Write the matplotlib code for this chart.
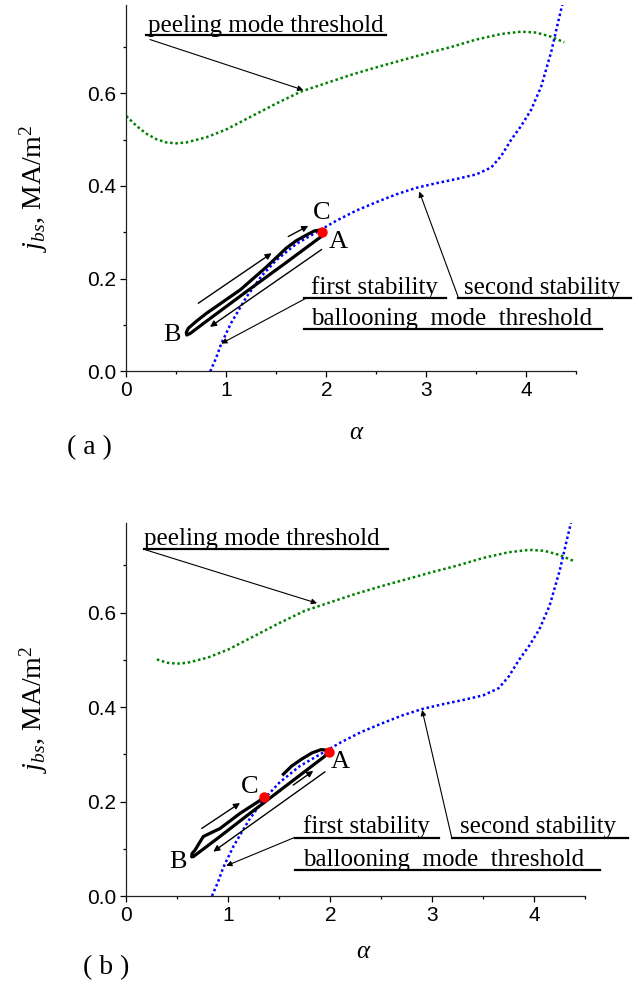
import numpy as np
import matplotlib.pyplot as plt

plt.rcParams['font.family'] = ['Liberation Sans', 'DejaVu Sans']
plt.rcParams['mathtext.fontset'] = 'custom'
plt.rcParams['mathtext.rm'] = 'Liberation Serif'
plt.rcParams['mathtext.it'] = 'Liberation Serif:italic'
SERIF = ['Liberation Serif', 'DejaVu Serif']

# ballooning mode threshold (first / second stability boundary), blue
ball_alpha = [0.84, 0.90, 0.95, 1.05, 1.20, 1.35, 1.50, 1.70, 1.90, 2.10, 2.30, 2.50,
              2.70, 2.90, 3.10, 3.30, 3.50, 3.65, 3.75, 3.85, 3.95, 4.05, 4.15, 4.25,
              4.32, 4.37]
ball_j = [0.000, 0.030, 0.060, 0.105, 0.160, 0.205, 0.240, 0.275, 0.300, 0.325, 0.347,
          0.365, 0.382, 0.396, 0.406, 0.415, 0.425, 0.440, 0.465, 0.500, 0.530, 0.565,
          0.615, 0.690, 0.755, 0.800]

# peeling mode threshold, green
peel_alpha = [0.0, 0.1, 0.2, 0.3, 0.4, 0.5, 0.6, 0.8, 1.0, 1.25, 1.5, 1.75, 2.0, 2.25,
              2.5, 2.75, 3.0, 3.25, 3.5, 3.75, 3.95, 4.1, 4.25, 4.38]
peel_j = [0.551, 0.530, 0.513, 0.501, 0.494, 0.492, 0.494, 0.505, 0.522, 0.550, 0.578,
          0.604, 0.622, 0.640, 0.656, 0.671, 0.686, 0.700, 0.716, 0.728, 0.733, 0.731,
          0.722, 0.710]
peel_start_b = 0.3  # panel (b) curve starts at alpha = 0.3

# pedestal trajectories (black loops)
traj_a_alpha = [1.96, 1.95, 1.60, 1.20, 0.80, 0.64, 0.605, 0.60, 0.62, 0.70, 0.80, 1.14,
                1.40, 1.60, 1.70, 1.80, 1.88, 1.94, 1.96]
traj_a_j = [0.300, 0.291, 0.235, 0.172, 0.108, 0.082, 0.0785, 0.084, 0.093, 0.108, 0.125,
            0.176, 0.225, 0.266, 0.282, 0.294, 0.303, 0.305, 0.300]
traj_b_alpha = [1.54, 1.62, 1.72, 1.82, 1.91, 1.96, 1.99, 1.94, 1.60, 1.20, 0.90, 0.657,
                0.641, 0.645, 0.673, 0.755, 0.919, 1.115, 1.294, 1.353]
traj_b_j = [0.258, 0.275, 0.290, 0.303, 0.310, 0.309, 0.3056, 0.295, 0.239, 0.173, 0.123,
            0.0834, 0.083, 0.090, 0.097, 0.126, 0.143, 0.175, 0.200, 0.209]

# red points
pts_a_alpha = [1.96]
pts_a_j = [0.300]
pts_b_alpha = [1.99, 1.353]
pts_b_j = [0.3056, 0.209]

panels = [
    dict(rect=[0.1967, 0.6241, 0.7009, 0.3706], tag='( a )', tagpos=(0.139, 0.547),
         xlabpos=(0.556, 0.563), ylabpos=(0.052, 0.809),
         peel_x=peel_alpha, peel_y=peel_j,
         traj=(traj_a_alpha, traj_a_j), pts=(pts_a_alpha, pts_a_j),
         letters=[('C', 1.954, 0.341), ('A', 2.12, 0.28), ('B', 0.454, 0.0785)],
         arrows=[((0.72, 0.147), (1.454, 0.255)), ((1.62, 0.291), (1.82, 0.314)),
                 ((1.954, 0.263), (0.837, 0.096))],
         notes=[('peeling mode threshold', 0.216, 0.733, 0.20, 2.60, 0.726),
                ('first stability', 1.85, 0.167, 1.776, 3.196, 0.159),
                ('second stability', 3.38, 0.167, 3.32, 5.05, 0.159),
                ('ballooning  mode  threshold', 1.85, 0.100, 1.776, 4.755, 0.0915)],
         pointers=[((0.237, 0.716), (1.77, 0.607)), ((1.79, 0.157), (0.95, 0.06)),
                   ((3.32, 0.16), (2.93, 0.388))]),
    dict(rect=[0.1967, 0.0931, 0.715, 0.3776], tag='( b )', tagpos=(0.166, 0.021),
         xlabpos=(0.566, 0.037), ylabpos=(0.052, 0.282),
         peel_x=[a for a in peel_alpha if a >= peel_start_b],
         peel_y=[j for a, j in zip(peel_alpha, peel_j) if a >= peel_start_b],
         traj=(traj_b_alpha, traj_b_j), pts=(pts_b_alpha, pts_b_j),
         letters=[('A', 2.095, 0.284), ('C', 1.213, 0.231), ('B', 0.51, 0.073)],
         arrows=[((0.739, 0.143), (1.115, 0.197)), ((1.637, 0.235), (1.833, 0.265)),
                 ((1.948, 0.263), (0.853, 0.094))],
         notes=[('peeling mode threshold', 0.172, 0.743, 0.172, 2.564, 0.734),
                ('first stability', 1.73, 0.133, 1.65, 3.07, 0.1236),
                ('second stability', 3.27, 0.133, 3.19, 4.92, 0.1236),
                ('ballooning  mode  threshold', 1.73, 0.064, 1.65, 4.64, 0.055)],
         pointers=[((0.19, 0.733), (1.87, 0.62)), ((1.65, 0.124), (0.98, 0.064)),
                   ((3.19, 0.124), (2.90, 0.394))]),
]

fig = plt.figure(figsize=(6.42, 9.88), dpi=100)

for p in panels:
    ax = fig.add_axes(p['rect'])
    ax.plot(p['peel_x'], p['peel_y'], color='#008000', lw=1.8,
            linestyle=(0, (1, 1.1)), dash_capstyle='butt')
    ax.plot(ball_alpha, ball_j, color='#0000ff', lw=1.8,
            linestyle=(0, (1, 1.1)), dash_capstyle='butt')
    ax.plot(*p['traj'], color='black', lw=2.3, solid_joinstyle='round')
    ax.plot(*p['pts'], 'o', color='red', ms=6.5, zorder=5)

    for s, x, y in p['letters']:
        ax.text(x, y, s, fontsize=19, family=SERIF, ha='center', va='center')
    for (x0, y0), (x1, y1) in p['arrows']:
        ax.annotate('', xy=(x1, y1), xytext=(x0, y0),
                    arrowprops=dict(arrowstyle='-|>', lw=1.0, color='black',
                                    mutation_scale=9, shrinkA=0, shrinkB=0))
    for s, x, y, u0, u1, uy in p['notes']:
        ax.text(x, y, s, fontsize=18, family=SERIF, ha='left', va='baseline')
        ax.plot([u0, u1], [uy, uy], color='black', lw=1.6, clip_on=False)
    for (x0, y0), (x1, y1) in p['pointers']:
        ax.annotate('', xy=(x1, y1), xytext=(x0, y0),
                    arrowprops=dict(arrowstyle='-|>', lw=0.8, color='black',
                                    mutation_scale=8, shrinkA=0, shrinkB=0))

    ax.set_xlim(0, 4.5)
    ax.set_ylim(0, 0.79)
    ax.set_xticks([0, 1, 2, 3, 4])
    ax.set_xticks(np.arange(0.5, 4.6, 1.0), minor=True)
    ax.set_yticks([0.0, 0.2, 0.4, 0.6])
    ax.set_yticks([0.1, 0.3, 0.5, 0.7], minor=True)
    ax.set_yticklabels(['0.0', '0.2', '0.4', '0.6'])
    ax.tick_params(which='major', length=4, width=0.9, labelsize=15, pad=3)
    ax.tick_params(which='minor', length=2.5, width=0.9)
    for side in ['top', 'right']:
        ax.spines[side].set_visible(False)
    for side in ['left', 'bottom']:
        ax.spines[side].set_linewidth(0.9)
        ax.spines[side].set_color('#222222')

    fig.text(*p['ylabpos'], r'$j_{bs}$, MA/m$^2$', fontsize=20, family=SERIF,
             rotation=90, ha='center', va='center')
    fig.text(*p['xlabpos'], r'$\alpha$', fontsize=18, ha='center', va='center')
    fig.text(*p['tagpos'], p['tag'], fontsize=20, family=SERIF, ha='center',
             va='center')

fig.savefig('out.png', dpi=100)
